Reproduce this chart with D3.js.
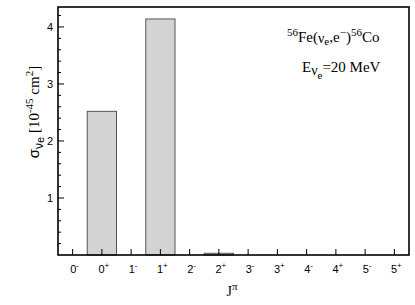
<!DOCTYPE html>
<html>
<head>
<meta charset="utf-8">
<script src="https://cdn.jsdelivr.net/npm/d3@7"></script>
<style>
  body { margin: 0; background: #fff; }
  .sans { font-family: "Liberation Sans", Arial, sans-serif; }
  .serif { font-family: "Liberation Serif", "Times New Roman", serif; }
</style>
</head>
<body>
<svg id="chart" width="415" height="305"></svg>
<script>
// J^pi multipoles and cross sections (10^-45 cm^2)
const spins = ["0", "0", "1", "1", "2", "2", "3", "3", "4", "4", "5", "5"]
const parities = ["-", "+", "-", "+", "-", "+", "-", "+", "-", "+", "-", "+"]
const sigma = [0, 2.52, 0, 4.14, 0, 0.03, 0, 0, 0, 0, 0, 0]
const yTicks = [1, 2, 3, 4]

const cats = spins.map((s, i) => s + parities[i])

let svg = d3.select("#chart")

const mLeft = 58, mRight = 409, mTop = 7, mBottom = 255

let x = d3.scaleBand()
          .domain(cats)
          .range([mLeft, mRight])
          .padding(0)

let y = d3.scaleLinear()
          .domain([0, 4.35])
          .range([mBottom, mTop])

// bars
let barData = sigma.map((v, i) => ({ cat: cats[i], value: v })).filter((d) => d.value > 0)
svg.selectAll("rect.bar")
   .data(barData)
   .enter()
   .append("rect")
   .attr("class", "bar")
   .attr("x", (d) => x(d.cat))
   .attr("y", (d) => y(d.value))
   .attr("width", x.bandwidth())
   .attr("height", (d) => y(0) - y(d.value))
   .attr("fill", "#d3d3d3")
   .attr("stroke", "#555")
   .attr("stroke-width", 1)

// y axis ticks (inside)
let minor = d3.range(0.2, 4.35, 0.2).filter((v) => Math.abs(v - Math.round(v)) > 0.01)
svg.selectAll("line.minor")
   .data(minor)
   .enter()
   .append("line")
   .attr("x1", mLeft).attr("x2", mLeft + 3)
   .attr("y1", (d) => y(d)).attr("y2", (d) => y(d))
   .attr("stroke", "#000")

svg.selectAll("line.major")
   .data(yTicks)
   .enter()
   .append("line")
   .attr("x1", mLeft).attr("x2", mLeft + 6)
   .attr("y1", (d) => y(d)).attr("y2", (d) => y(d))
   .attr("stroke", "#000")

svg.selectAll("text.ylab")
   .data(yTicks)
   .enter()
   .append("text")
   .attr("class", "sans")
   .attr("x", mLeft - 5)
   .attr("y", (d) => y(d) + 4)
   .attr("text-anchor", "end")
   .style("font-size", "11px")
   .text((d) => d)

// x axis ticks (inside)
svg.selectAll("line.xt")
   .data(cats)
   .enter()
   .append("line")
   .attr("x1", (d) => x(d) + x.bandwidth() / 2)
   .attr("x2", (d) => x(d) + x.bandwidth() / 2)
   .attr("y1", mBottom).attr("y2", mBottom - 6)
   .attr("stroke", "#000")

let xl = svg.selectAll("text.xlab")
   .data(cats)
   .enter()
   .append("text")
   .attr("class", "sans")
   .attr("x", (d) => x(d) + x.bandwidth() / 2 + 2)
   .attr("y", 273)
   .attr("text-anchor", "middle")
   .style("font-size", "11px")
xl.append("tspan").text((d, i) => spins[i])
xl.append("tspan")
  .attr("dy", -5)
  .style("font-size", "8px")
  .text((d, i) => parities[i])

// frame
svg.append("rect")
   .attr("x", mLeft).attr("y", mTop)
   .attr("width", mRight - mLeft).attr("height", mBottom - mTop)
   .attr("fill", "none")
   .attr("stroke", "#000")
   .attr("stroke-width", 1.6)

// x title
let xt = svg.append("text")
   .attr("class", "serif")
   .attr("x", 232).attr("y", 296)
   .attr("text-anchor", "middle")
   .style("font-size", "14px")
xt.append("tspan").text("J")
xt.append("tspan").attr("dy", -6).style("font-size", "11px").text("π")

// y title
let yt = svg.append("text")
   .attr("class", "serif")
   .attr("transform", "translate(39,112) rotate(-90)")
   .attr("text-anchor", "middle")
   .style("font-size", "15px")
yt.append("tspan").attr("class", "sans").text("σ")
yt.append("tspan").attr("dy", 4).attr("class", "sans").style("font-size", "12px").text("ν")
yt.append("tspan").attr("dy", 1).attr("class", "sans").style("font-size", "11px").text("e")
yt.append("tspan").attr("dy", -5).text(" [10")
yt.append("tspan").attr("dy", -6).style("font-size", "11px").text("-45")
yt.append("tspan").attr("dy", 6).text(" cm")
yt.append("tspan").attr("dy", -6).style("font-size", "11px").text("2")
yt.append("tspan").attr("dy", 6).text("]")

// reaction label
let r = svg.append("text")
   .attr("class", "serif")
   .attr("x", 287).attr("y", 42)
   .style("font-size", "15px")
r.append("tspan").attr("dy", -6).style("font-size", "11px").text("56")
r.append("tspan").attr("dy", 6).text("Fe(")
r.append("tspan").attr("dy", 1).style("font-size", "14px").text("ν")
r.append("tspan").attr("dy", 2).style("font-size", "11px").text("e")
r.append("tspan").attr("dy", -3).text(",e")
r.append("tspan").attr("dy", -6).style("font-size", "11px").text("−")
r.append("tspan").attr("dy", 6).text(")")
r.append("tspan").attr("dy", -6).style("font-size", "11px").text("56")
r.append("tspan").attr("dy", 6).text("Co")

let e = svg.append("text")
   .attr("class", "serif")
   .attr("x", 302).attr("y", 72)
   .style("font-size", "15px")
e.append("tspan").text("E")
e.append("tspan").attr("dy", 3).style("font-size", "14px").text("ν")
e.append("tspan").attr("dy", 4).style("font-size", "11px").text("e")
e.append("tspan").attr("dy", -7).text("=20 MeV")
</script>
</body>
</html>
